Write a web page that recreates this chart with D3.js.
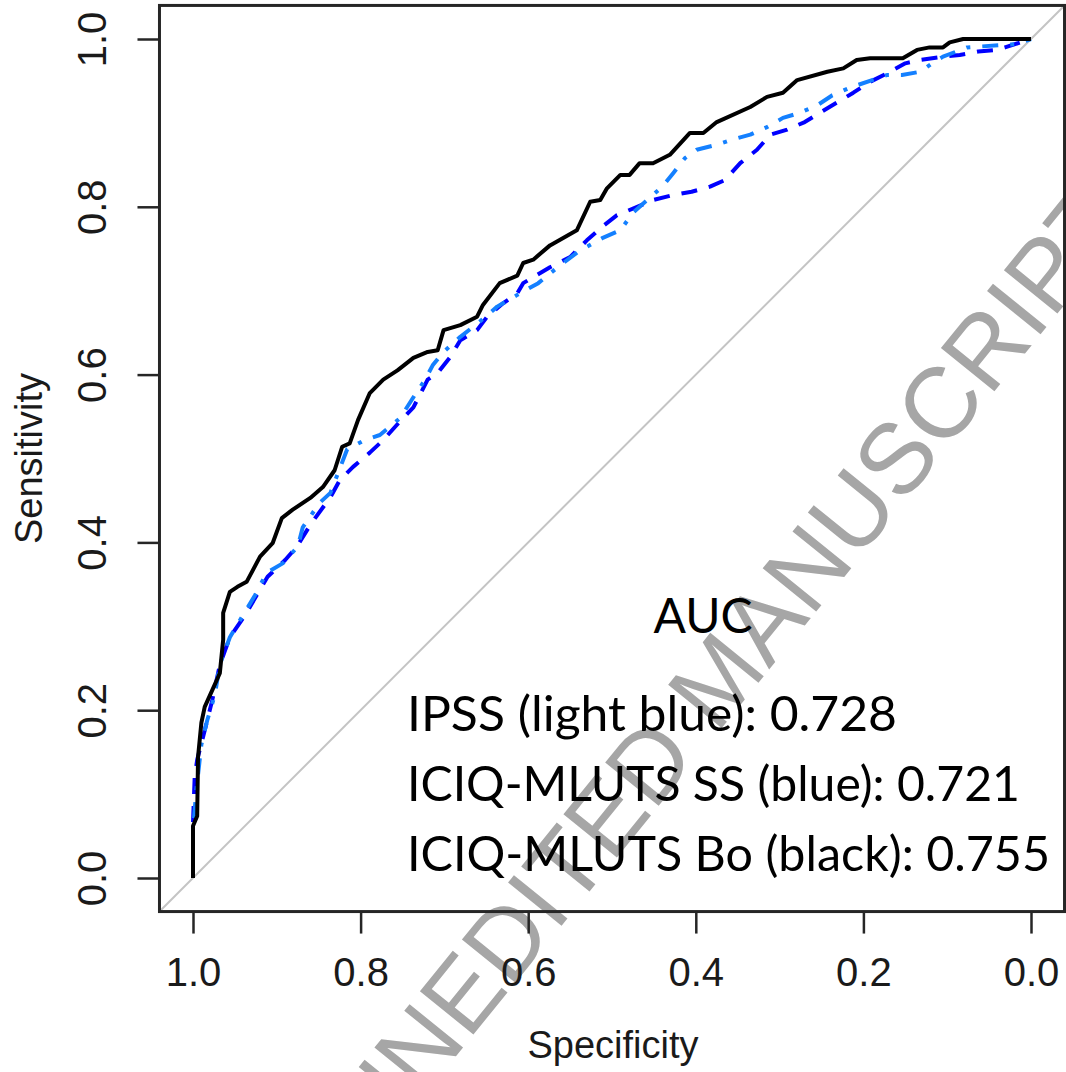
<!DOCTYPE html>
<html>
<head>
<meta charset="utf-8">
<script src="https://cdn.jsdelivr.net/npm/d3@7"></script>
<style>
  body { margin: 0; background: #fff; }
  svg { display: block; }
</style>
</head>
<body>
<div id="chart"></div>
<script>
'use strict';

// ROC points: specificity / sensitivity pairs
var boSpec = [1, 1, 0.995, 0.994, 0.990, 0.986, 0.977, 0.968, 0.964, 0.964, 0.956, 0.947, 0.936, 0.920, 0.905, 0.894, 0.881, 0.860, 0.845, 0.831, 0.822, 0.813, 0.803, 0.789, 0.773, 0.756, 0.737, 0.720, 0.708, 0.701, 0.681, 0.661, 0.654, 0.634, 0.613, 0.606, 0.594, 0.574, 0.542, 0.526, 0.514, 0.506, 0.490, 0.479, 0.467, 0.451, 0.431, 0.407, 0.391, 0.375, 0.335, 0.315, 0.296, 0.279, 0.243, 0.224, 0.208, 0.192, 0.153, 0.136, 0.121, 0.105, 0.097, 0.081, 0];
var boSens = [0, 0.062, 0.074, 0.144, 0.185, 0.204, 0.224, 0.244, 0.284, 0.316, 0.341, 0.347, 0.353, 0.383, 0.399, 0.429, 0.439, 0.453, 0.466, 0.486, 0.514, 0.518, 0.546, 0.578, 0.594, 0.605, 0.620, 0.627, 0.629, 0.653, 0.659, 0.669, 0.683, 0.709, 0.718, 0.733, 0.737, 0.754, 0.772, 0.806, 0.808, 0.822, 0.838, 0.838, 0.852, 0.852, 0.862, 0.888, 0.888, 0.901, 0.919, 0.931, 0.936, 0.951, 0.961, 0.965, 0.975, 0.977, 0.977, 0.987, 0.990, 0.990, 0.996, 1, 1];

var ssSpec = [1, 1, 0.998, 0.995, 0.986, 0.977, 0.968, 0.956, 0.938, 0.924, 0.911, 0.890, 0.876, 0.860, 0.836, 0.825, 0.809, 0.789, 0.773, 0.755, 0.737, 0.720, 0.708, 0.693, 0.681, 0.661, 0.649, 0.630, 0.613, 0.606, 0.574, 0.550, 0.530, 0.512, 0.494, 0.470, 0.451, 0.427, 0.405, 0.383, 0.365, 0.347, 0.327, 0.311, 0.291, 0.270, 0.252, 0.232, 0.212, 0.192, 0.172, 0.150, 0.132, 0.105, 0.085, 0.063, 0.041, 0.031, 0];
var ssSens = [0, 0.066, 0.120, 0.141, 0.176, 0.212, 0.254, 0.287, 0.313, 0.337, 0.359, 0.379, 0.395, 0.421, 0.454, 0.474, 0.490, 0.507, 0.522, 0.542, 0.561, 0.594, 0.602, 0.621, 0.641, 0.653, 0.669, 0.685, 0.697, 0.709, 0.728, 0.740, 0.760, 0.776, 0.790, 0.800, 0.808, 0.814, 0.818, 0.824, 0.832, 0.852, 0.868, 0.886, 0.892, 0.901, 0.912, 0.924, 0.936, 0.949, 0.959, 0.971, 0.975, 0.979, 0.981, 0.985, 0.987, 0.990, 1];

var ipssSpec = [1, 1, 0.996, 0.990, 0.983, 0.974, 0.968, 0.956, 0.938, 0.926, 0.912, 0.893, 0.875, 0.869, 0.849, 0.836, 0.816, 0.795, 0.777, 0.753, 0.737, 0.723, 0.714, 0.702, 0.681, 0.658, 0.637, 0.613, 0.588, 0.566, 0.541, 0.511, 0.490, 0.475, 0.440, 0.427, 0.413, 0.399, 0.375, 0.357, 0.335, 0.315, 0.296, 0.276, 0.255, 0.237, 0.216, 0.172, 0.154, 0.132, 0.115, 0.105, 0.076, 0.017, 0];
var ipssSens = [0, 0.057, 0.105, 0.159, 0.188, 0.218, 0.254, 0.287, 0.317, 0.337, 0.364, 0.375, 0.395, 0.418, 0.447, 0.459, 0.511, 0.522, 0.528, 0.548, 0.573, 0.594, 0.611, 0.626, 0.645, 0.663, 0.681, 0.695, 0.709, 0.727, 0.746, 0.763, 0.772, 0.793, 0.824, 0.840, 0.858, 0.868, 0.874, 0.880, 0.886, 0.895, 0.906, 0.912, 0.921, 0.933, 0.942, 0.957, 0.957, 0.961, 0.973, 0.979, 0.990, 0.994, 1];

var ticks = [1.0, 0.8, 0.6, 0.4, 0.2, 0.0];
var aucTitle = 'AUC';
var aucLines = ['IPSS (light blue): 0.728', 'ICIQ-MLUTS SS (blue): 0.721', 'ICIQ-MLUTS Bo (black): 0.755'];
var watermark = 'UNEDITED MANUSCRIPT';

var width = 1066,
    height = 1072;

var x = d3.scaleLinear().domain([1, 0]).range([193, 1031]);
var y = d3.scaleLinear().domain([0, 1]).range([878, 39]);

var svg = d3.select('#chart').append('svg')
    .attr('width', width)
    .attr('height', height);

// watermark sits underneath everything
svg.append('text')
    .attr('transform', 'translate(755,687) rotate(-51)')
    .attr('text-anchor', 'middle')
    .style('font-family', '"Liberation Sans", Arial, sans-serif')
    .style('font-size', '100px')
    .style('fill', '#a6a6a6')
    .text(watermark);

// box = data range + 4% like base R
var x0 = x(1.04), x1 = x(-0.04), y0 = y(-0.04), y1 = y(1.04);

svg.append('line')
    .attr('x1', x(1.04)).attr('y1', y(-0.04))
    .attr('x2', x(-0.04)).attr('y2', y(1.04))
    .style('stroke', '#c4c4c4')
    .style('stroke-width', 2);

var line = d3.line()
    .x(function(d) { return x(d[0]); })
    .y(function(d) { return y(d[1]); });

function pairs(a, b) {
  return a.map(function(v, i) { return [v, b[i]]; });
}

var series = [
  {spec: ssSpec, sens: ssSens, color: '#0000ff', dash: '16,12'},
  {spec: ipssSpec, sens: ipssSens, color: '#1480ff', dash: '4,12,16,12'},
  {spec: boSpec, sens: boSens, color: '#000000', dash: null}
];

svg.selectAll('path.roc')
    .data(series)
  .enter().append('path')
    .attr('class', 'roc')
    .attr('d', function(d) { return line(pairs(d.spec, d.sens)); })
    .style('fill', 'none')
    .style('stroke', function(d) { return d.color; })
    .style('stroke-width', 4)
    .style('stroke-linejoin', 'round')
    .style('stroke-dasharray', function(d) { return d.dash; });

svg.append('rect')
    .attr('x', x0).attr('y', y1)
    .attr('width', x1 - x0).attr('height', y0 - y1)
    .style('fill', 'none')
    .style('stroke', '#262626')
    .style('stroke-width', 3);

var axisFont = '"Liberation Sans", Arial, sans-serif';

// x axis
var gx = svg.append('g')
    .attr('transform', 'translate(0,' + y0 + ')')
    .call(d3.axisBottom(x).tickValues(ticks).tickSize(22).tickFormat(d3.format('.1f')));
gx.select('.domain').remove();
gx.selectAll('.tick line').style('stroke', '#262626').style('stroke-width', 2.5);
gx.selectAll('.tick text')
    .attr('y', 60)
    .attr('dy', '0.35em')
    .style('font-family', axisFont)
    .style('font-size', '40px')
    .style('fill', '#1a1a1a');

// y axis, labels turned like R's las = 0
var gy = svg.append('g')
    .attr('transform', 'translate(' + x0 + ',0)')
    .call(d3.axisLeft(y).tickValues(ticks).tickSize(22).tickFormat(d3.format('.1f')));
gy.select('.domain').remove();
gy.selectAll('.tick line').style('stroke', '#262626').style('stroke-width', 2.5);
gy.selectAll('.tick text')
    .attr('x', 0).attr('y', 0).attr('dy', null)
    .attr('text-anchor', 'middle')
    .attr('transform', 'translate(-53,0) rotate(-90)')
    .style('font-family', axisFont)
    .style('font-size', '40px')
    .style('fill', '#1a1a1a');

svg.append('text')
    .attr('x', (x0 + x1) / 2 + 1)
    .attr('y', 1058)
    .attr('text-anchor', 'middle')
    .style('font-family', axisFont)
    .style('font-size', '38px')
    .style('fill', '#1a1a1a')
    .text('Specificity');

svg.append('text')
    .attr('transform', 'translate(42,' + ((y0 + y1) / 2) + ') rotate(-90)')
    .attr('text-anchor', 'middle')
    .style('font-family', axisFont)
    .style('font-size', '38px')
    .style('fill', '#1a1a1a')
    .text('Sensitivity');

// AUC annotation
var annoFont = 'Lato, "Open Sans", sans-serif';
svg.append('text')
    .attr('x', 703)
    .attr('y', 633)
    .attr('text-anchor', 'middle')
    .style('font-family', annoFont)
    .style('font-size', '48px')
    .style('fill', '#000')
    .text(aucTitle);

var lineWidths = [490, 613, 643];
svg.selectAll('text.auc')
    .data(aucLines)
  .enter().append('text')
    .attr('class', 'auc')
    .attr('x', 407)
    .attr('y', function(d, i) { return 731 + i * 70; })
    .attr('textLength', function(d, i) { return lineWidths[i]; })
    .attr('lengthAdjust', 'spacingAndGlyphs')
    .style('font-family', annoFont)
    .style('font-size', '48px')
    .style('fill', '#000')
    .text(function(d) { return d; });
</script>
</body>
</html>
